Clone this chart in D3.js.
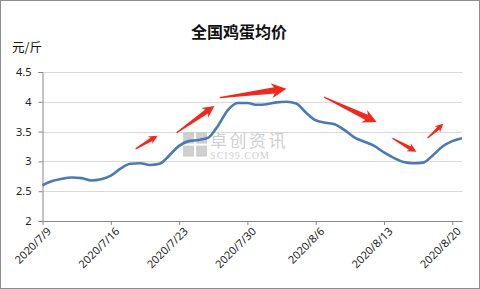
<!DOCTYPE html>
<html>
<head>
<meta charset="utf-8">
<script src="https://cdn.jsdelivr.net/npm/d3@7"></script>
<style>
  body { margin: 0; background: #fff; }
  svg { display: block; font-family: "Noto Sans CJK SC", "Noto Sans", sans-serif; }
</style>
</head>
<body>
<div id="container"></div>
<script>
const width = 480;
const height = 289;
const margin = {top: 72, right: 18, bottom: 68, left: 42.5};

// chart data
const title = "全国鸡蛋均价";
const unitLabel = "元/斤";
const dates = [
	"2020/7/9", "2020/7/10", "2020/7/11", "2020/7/12", "2020/7/13", "2020/7/14", "2020/7/15",
	"2020/7/16", "2020/7/17", "2020/7/18", "2020/7/19", "2020/7/20", "2020/7/21", "2020/7/22",
	"2020/7/23", "2020/7/24", "2020/7/25", "2020/7/26", "2020/7/27", "2020/7/28", "2020/7/29",
	"2020/7/30", "2020/7/31", "2020/8/1", "2020/8/2", "2020/8/3", "2020/8/4", "2020/8/5",
	"2020/8/6", "2020/8/7", "2020/8/8", "2020/8/9", "2020/8/10", "2020/8/11", "2020/8/12",
	"2020/8/13", "2020/8/14", "2020/8/15", "2020/8/16", "2020/8/17", "2020/8/18", "2020/8/19",
	"2020/8/20", "2020/8/21"
];
const prices = [
	2.60, 2.67, 2.71, 2.73, 2.72, 2.68, 2.70,
	2.76, 2.88, 2.96, 2.97, 2.94, 2.96, 3.10,
	3.26, 3.34, 3.36, 3.40, 3.60, 3.86, 3.98,
	3.98, 3.95, 3.96, 3.99, 4.00, 3.97, 3.82,
	3.69, 3.65, 3.62, 3.52, 3.40, 3.33, 3.26,
	3.15, 3.06, 2.99, 2.97, 2.98, 3.10, 3.25,
	3.34, 3.39
];
const xTickLabels = ["2020/7/9", "2020/7/16", "2020/7/23", "2020/7/30", "2020/8/6", "2020/8/13", "2020/8/20"];
const yTicks = [2, 2.5, 3, 3.5, 4, 4.5];

// red trend arrows drawn over the chart: [tail date, tail value, head date, head value]
const arrows = [
	["2020/7/18 13:00", 3.21, "2020/7/20 19:00", 3.43],
	["2020/7/22 18:00", 3.48, "2020/7/26 15:00", 3.93],
	["2020/7/27 04:00", 4.07, "2020/8/3 00:00", 4.22],
	["2020/8/6 20:00", 4.08, "2020/8/12 06:00", 3.66],
	["2020/8/13 21:00", 3.39, "2020/8/16 08:00", 3.16],
	["2020/8/17 11:00", 3.39, "2020/8/19 02:00", 3.63]
];

const parseDate = d3.timeParse("%Y/%m/%d");
const parseDateTime = d3.timeParse("%Y/%m/%d %H:%M");
const data = dates.map((d, i) => ({date: parseDate(d), value: prices[i]}));

let svg = d3.select("#container")
	.append("svg")
	.attr("width", width)
	.attr("height", height);

svg.append("rect")
	.attr("x", 0.5).attr("y", 0.5)
	.attr("width", width - 1).attr("height", height - 1)
	.attr("fill", "#fff")
	.attr("stroke", "#8c8c8c");

const x = d3.scaleTime()
	.domain([data[0].date, data[data.length - 1].date])
	.range([margin.left, width - margin.right]);

const y = d3.scaleLinear()
	.domain([2, 4.5])
	.range([height - margin.bottom, margin.top]);

// gridlines
svg.append("g")
	.selectAll("line")
	.data(yTicks.slice(1))
	.enter()
	.append("line")
	.attr("x1", margin.left)
	.attr("x2", width - margin.right)
	.attr("y1", d => Math.round(y(d)) + 0.5)
	.attr("y2", d => Math.round(y(d)) + 0.5)
	.attr("stroke", "#d9d9d9");

// watermark
const wm = svg.append("g")
	.attr("transform", "translate(" + (x(parseDate("2020/7/23")) + 4) + "," + (y(3.5) + 1) + ")")
	.attr("opacity", 0.55);
[[0, 0], [13, 0], [0, 13], [13, 13]].forEach(p => {
	wm.append("rect")
		.attr("x", p[0]).attr("y", p[1])
		.attr("width", 11).attr("height", 11)
		.attr("fill", "#a8a8a8");
});
wm.append("text")
	.attr("x", 27).attr("y", 14)
	.attr("font-size", 17)
	.attr("letter-spacing", 2.5)
	.attr("fill", "#a8a8a8")
	.text("卓创资讯");
wm.append("text")
	.attr("x", 27).attr("y", 26)
	.attr("font-size", 10)
	.attr("font-family", "Liberation Serif, serif")
	.attr("letter-spacing", 1)
	.attr("fill", "#a8a8a8")
	.text("SCI99.COM");

// y axis
const yAxis = d3.axisLeft(y)
	.tickValues(yTicks)
	.tickSize(4)
	.tickFormat(d3.format("~g"));
const gy = svg.append("g")
	.attr("transform", "translate(" + margin.left + ",0)")
	.call(yAxis);
gy.select(".domain").attr("stroke", "#888");
gy.selectAll(".tick line").attr("stroke", "#888");
gy.selectAll(".tick text")
	.attr("x", -11)
	.attr("font-size", 11)
	.attr("font-family", "Noto Sans, sans-serif")
	.attr("fill", "#222");

// x axis
const xAxis = d3.axisBottom(x)
	.tickValues(xTickLabels.map(parseDate))
	.tickSize(4)
	.tickSizeOuter(0)
	.tickFormat(d3.timeFormat("%Y/%-m/%-d"));
const gx = svg.append("g")
	.attr("transform", "translate(0," + (height - margin.bottom) + ")")
	.call(xAxis);
gx.select(".domain").attr("stroke", "#888");
gx.selectAll(".tick line").attr("stroke", "#888");
gx.selectAll(".tick text")
	.attr("font-size", 11)
	.attr("font-family", "Noto Sans, sans-serif")
	.attr("fill", "#222")
	.attr("text-anchor", "end")
	.attr("dy", 0)
	.attr("y", 0)
	.attr("transform", "translate(9,11) rotate(-45)");

// price line
const line = d3.line()
	.x(d => x(d.date))
	.y(d => y(d.value))
	.curve(d3.curveMonotoneX);

svg.append("path")
	.datum(data)
	.attr("fill", "none")
	.attr("stroke", "#4a7ab4")
	.attr("stroke-width", 2.6)
	.attr("stroke-linejoin", "round")
	.attr("d", line);

// arrows
function arrowPoints(a) {
	const tx = x(parseDateTime(a[0])), ty = y(a[1]);
	const hx = x(parseDateTime(a[2])), hy = y(a[3]);
	const L = Math.hypot(hx - tx, hy - ty);
	const ux = (hx - tx) / L, uy = (hy - ty) / L;
	const nx = -uy, ny = ux;
	const hl = 5 + L * 0.15;
	const hw = hl * 1.0;
	const sw = hw * 0.42;
	const bx = hx - ux * hl, by = hy - uy * hl;
	const nbx = hx - ux * hl * 0.8, nby = hy - uy * hl * 0.8;
	return [
		[tx + nx * 0.6, ty + ny * 0.6],
		[nbx + nx * sw / 2, nby + ny * sw / 2],
		[bx + nx * hw / 2, by + ny * hw / 2],
		[hx, hy],
		[bx - nx * hw / 2, by - ny * hw / 2],
		[nbx - nx * sw / 2, nby - ny * sw / 2],
		[tx - nx * 0.6, ty - ny * 0.6]
	];
}

svg.append("g")
	.selectAll("polygon")
	.data(arrows)
	.enter()
	.append("polygon")
	.attr("points", d => arrowPoints(d).map(p => p.join(",")).join(" "))
	.attr("fill", "#ee2a1f");

// title and unit
svg.append("text")
	.attr("x", 239)
	.attr("y", 38)
	.attr("text-anchor", "middle")
	.attr("font-size", 16)
	.attr("font-weight", "bold")
	.attr("fill", "#111")
	.text(title);

svg.append("text")
	.attr("x", 12)
	.attr("y", 52)
	.attr("font-size", 12.5)
	.attr("fill", "#111")
	.text(unitLabel);
</script>
</body>
</html>
